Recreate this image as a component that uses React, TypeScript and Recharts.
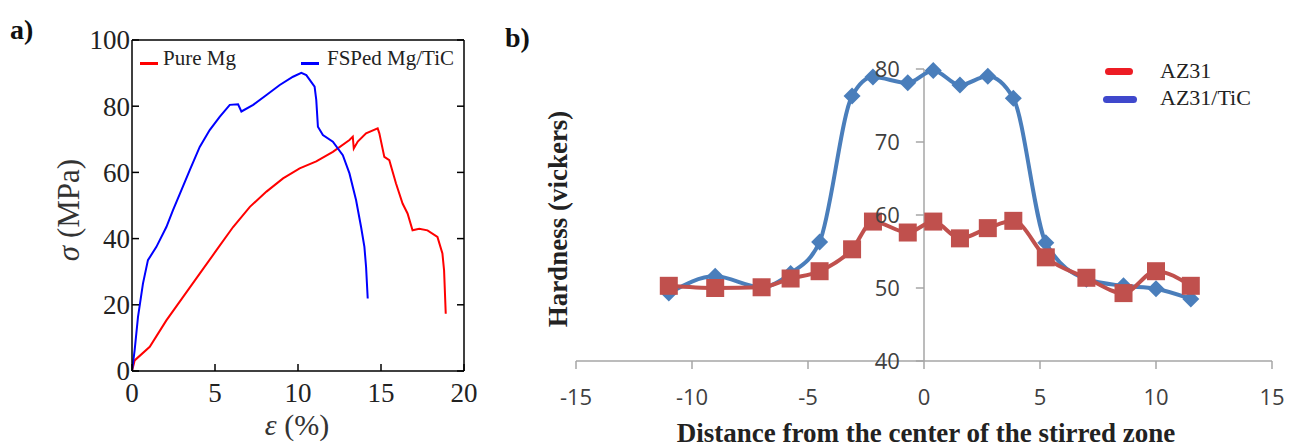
import { LineChart, Line, XAxis, YAxis, Legend, ReferenceLine } from 'recharts';

// ---- panel a) tensile curves ----
const fspStrain = [0, 0.16, 0.36, 0.66, 0.96, 1.47, 2.07, 2.47, 2.97, 3.48, 4.08, 4.68, 5.28, 5.89, 6.39, 6.59, 7.3, 8.1, 8.9, 9.7, 10.2, 10.5, 11.0, 11.1, 11.2, 11.5, 12.1, 12.7, 13.1, 13.5, 13.8, 14.0, 14.1, 14.2];
const fspStress = [0, 6.3, 16.3, 26.4, 33.5, 37.5, 43.5, 48.6, 54.6, 60.7, 67.7, 72.8, 76.8, 80.4, 80.6, 78.4, 80.4, 83.4, 86.4, 88.9, 90.1, 89.4, 85.9, 81.9, 73.8, 71.3, 69.3, 65.2, 59.7, 51.6, 43.5, 37.5, 31.5, 21.9];
const pureStrain = [0, 0.16, 1.07, 2.07, 3.08, 4.08, 5.09, 6.09, 7.1, 8.1, 9.1, 10.1, 11.1, 12.1, 13.1, 13.3, 13.36, 13.6, 14.1, 14.8, 14.9, 15.2, 15.5, 15.9, 16.3, 16.6, 16.9, 17.3, 17.8, 18.4, 18.7, 18.8, 18.9];
const pureStress = [0, 3.2, 7.3, 15.3, 22.4, 29.4, 36.5, 43.5, 49.6, 54.2, 58.2, 61.2, 63.3, 66.2, 69.8, 70.8, 67.2, 69.3, 71.8, 73.3, 71.8, 64.7, 63.7, 56.7, 50.6, 47.6, 42.5, 43.0, 42.5, 40.5, 35.5, 30.4, 17.3];
const strainTicks = [0, 5, 10, 15, 20];
const stressTicks = [0, 20, 40, 60, 80, 100];

// ---- panel b) hardness profile ----
const distance = [-11, -9, -7, -5.75, -4.5, -3.1, -2.2, -0.7, 0.4, 1.55, 2.75, 3.85, 5.25, 7, 8.6, 10, 11.5];
const hardnessAZ31 = [50.3, 50.0, 50.1, 51.3, 52.3, 55.3, 59.1, 57.6, 59.1, 56.8, 58.2, 59.2, 54.2, 51.4, 49.3, 52.3, 50.3];
const hardnessTiC = [49.3, 51.6, 50.1, 52.0, 56.3, 76.3, 78.9, 78.1, 79.8, 77.8, 79.0, 76.0, 56.2, 51.2, 50.3, 49.9, 48.5];
const distanceTicks = [-15, -10, -5, 0, 5, 10, 15];
const hardnessTicks = [40, 50, 60, 70, 80];

const fspData = fspStrain.map((x, i) => ({ x, y: fspStress[i] }));
const pureData = pureStrain.map((x, i) => ({ x, y: pureStress[i] }));
const hardnessData = distance.map((d, i) => ({ d, az31: hardnessAZ31[i], tic: hardnessTiC[i] }));

const serif = '"Liberation Serif", "Times New Roman", serif';
const sans = '"Open Sans", "Liberation Sans", Arial, sans-serif';

const TickBottomA = ({ x, y, payload }: any) => (
  <g>
    <line x1={x} y1={y} x2={x} y2={y - 7} stroke="#000" strokeWidth={1.5} />
    <text x={x} y={y + 31} textAnchor="middle" fontFamily={serif} fontSize={27} fill="#222">{payload.value}</text>
  </g>
);
const TickTopA = ({ x, y }: any) => <line x1={x} y1={y} x2={x} y2={y + 7} stroke="#000" strokeWidth={1.5} />;
const TickLeftA = ({ x, y, payload }: any) => (
  <g>
    <line x1={x} y1={y} x2={x + 7} y2={y} stroke="#000" strokeWidth={1.5} />
    <text x={x - 2} y={y} dy="0.35em" textAnchor="end" fontFamily={serif} fontSize={27} fill="#222">{payload.value}</text>
  </g>
);
const TickRightA = ({ x, y }: any) => <line x1={x} y1={y} x2={x - 7} y2={y} stroke="#000" strokeWidth={1.5} />;

const TickBottomB = ({ x, y, payload }: any) => (
  <g>
    <line x1={x} y1={y} x2={x} y2={y + 8} stroke="#a6a6a6" strokeWidth={1.5} />
    <text x={x} y={y + 44} textAnchor="middle" fontFamily={sans} fontSize={22} fill="#404040">{payload.value}</text>
  </g>
);

const SquareDot = (props: any) => {
  const { cx, cy, index } = props;
  if (cx == null || cy == null) return <g key={`sq-${index}`} />;
  return <rect key={`sq-${index}`} x={cx - 9} y={cy - 9} width={18} height={18} fill="#c0504d" />;
};
const DiamondDot = (props: any) => {
  const { cx, cy, index } = props;
  if (cx == null || cy == null) return <g key={`dm-${index}`} />;
  const r = 8.5;
  return <polygon key={`dm-${index}`} points={`${cx},${cy - r} ${cx + r},${cy} ${cx},${cy + r} ${cx - r},${cy}`} fill="#4a7ebb" />;
};

const LegendA = () => (
  <div style={{ position: 'relative', height: 30, fontFamily: serif, fontSize: 21, color: '#222' }}>
    <div style={{ position: 'absolute', left: 5, top: 14, width: 18, height: 2.5, background: '#ff0000' }} />
    <div style={{ position: 'absolute', left: 28, top: 0, lineHeight: '21px', whiteSpace: 'nowrap' }}>Pure Mg</div>
    <div style={{ position: 'absolute', left: 166, top: 14, width: 18, height: 2.5, background: '#0000ff' }} />
    <div style={{ position: 'absolute', left: 192, top: 0, lineHeight: '21px', whiteSpace: 'nowrap' }}>FSPed Mg/TiC</div>
  </div>
);

const LegendB = () => (
  <div style={{ position: 'relative', height: 60, fontFamily: serif, fontSize: 22, color: '#222' }}>
    <div style={{ position: 'absolute', left: 5, top: 9.5, width: 28, height: 7, borderRadius: 4, background: '#ed1c24' }} />
    <div style={{ position: 'absolute', left: 60, top: 2, lineHeight: '22px', whiteSpace: 'nowrap' }}>AZ31</div>
    <div style={{ position: 'absolute', left: 3, top: 37.5, width: 34, height: 7, borderRadius: 4, background: '#3f48cc' }} />
    <div style={{ position: 'absolute', left: 60, top: 29, lineHeight: '22px', whiteSpace: 'nowrap' }}>AZ31/TiC</div>
  </div>
);

const abs = (style: React.CSSProperties): React.CSSProperties => ({ position: 'absolute', whiteSpace: 'nowrap', lineHeight: 1, ...style });

export default function App() {
  return (
    <div style={{ position: 'absolute', left: 0, top: 0, width: 1294, height: 446, background: '#fff', overflow: 'hidden' }}>
      {/* a) stress-strain */}
      <div style={abs({ left: 0, top: 0 })}>
        <LineChart width={480} height={446} margin={{ top: 39, right: 15, bottom: 74, left: 131 }}>
          <XAxis dataKey="x" type="number" domain={[0, 20]} ticks={strainTicks} height={1} tickSize={0} tickMargin={0}
            axisLine={{ stroke: '#000', strokeWidth: 1.5 }} tickLine={false} tick={<TickBottomA />} allowDataOverflow />
          <XAxis xAxisId="top" orientation="top" type="number" domain={[0, 20]} ticks={strainTicks} height={1} tickSize={0} tickMargin={0}
            axisLine={{ stroke: '#000', strokeWidth: 1.5 }} tickLine={false} tick={<TickTopA />} allowDataOverflow />
          <YAxis type="number" domain={[0, 100]} ticks={stressTicks} width={1} tickSize={0} tickMargin={0}
            axisLine={{ stroke: '#000', strokeWidth: 1.5 }} tickLine={false} tick={<TickLeftA />} allowDataOverflow />
          <YAxis yAxisId="right" orientation="right" type="number" domain={[0, 100]} ticks={stressTicks} width={1} tickSize={0} tickMargin={0}
            axisLine={{ stroke: '#000', strokeWidth: 1.5 }} tickLine={false} tick={<TickRightA />} allowDataOverflow />
          <Line data={pureData} dataKey="y" name="Pure Mg" type="linear" stroke="#ff0000" strokeWidth={2} dot={false} isAnimationActive={false} />
          <Line data={fspData} dataKey="y" name="FSPed Mg/TiC" type="linear" stroke="#0000ff" strokeWidth={2} dot={false} isAnimationActive={false} />
          <Legend layout="horizontal" verticalAlign="middle" align="center" content={<LegendA />}
            wrapperStyle={{ left: 135, top: 48, width: 330 }} />
        </LineChart>
      </div>
      <div style={abs({ left: 10, top: 16, fontFamily: serif, fontWeight: 'bold', fontSize: 28, color: '#111' })}>a)</div>
      <div style={abs({ left: 297, top: 425, transform: 'translate(-50%, -50%)', fontFamily: serif, fontSize: 30, color: '#333' })}>
        <i>ε</i> (%)
      </div>
      <div style={abs({ left: 68, top: 210, transform: 'translate(-50%, -50%) rotate(-90deg)', fontFamily: serif, fontSize: 31, color: '#333' })}>
        <i>σ</i> (MPa)
      </div>

      {/* b) hardness */}
      <div style={abs({ left: 500, top: 0 })}>
        <LineChart width={794} height={446} data={hardnessData} margin={{ top: 69, right: 22, bottom: 84, left: 76 }}>
          <XAxis dataKey="d" type="number" domain={[-15, 15]} ticks={distanceTicks} height={1} tickSize={0} tickMargin={0}
            axisLine={{ stroke: '#a6a6a6', strokeWidth: 1.5 }} tickLine={false} tick={<TickBottomB />} />
          <YAxis type="number" domain={[40, 80]} hide />
          <ReferenceLine x={0} stroke="#a6a6a6" strokeWidth={1.5} />
          {hardnessTicks.map((v) => (
            <ReferenceLine key={v} segment={[{ x: -0.35, y: v }, { x: 0, y: v }]} stroke="#a6a6a6" strokeWidth={1.5}
              label={{ value: v, position: 'left', offset: 16, fill: '#404040', fontSize: 22, fontFamily: sans }} />
          ))}
          <Line dataKey="tic" name="AZ31/TiC" type="monotone" stroke="#4a7ebb" strokeWidth={4} dot={<DiamondDot />} isAnimationActive={false} />
          <Line dataKey="az31" name="AZ31" type="monotone" stroke="#c0504d" strokeWidth={4} dot={<SquareDot />} isAnimationActive={false} />
          <Legend layout="horizontal" verticalAlign="middle" align="center" content={<LegendB />}
            wrapperStyle={{ left: 600, top: 58, width: 180 }} />
        </LineChart>
      </div>
      <div style={abs({ left: 505, top: 24, fontFamily: serif, fontWeight: 'bold', fontSize: 28, color: '#111' })}>b)</div>
      <div style={abs({ left: 926, top: 433, transform: 'translate(-50%, -50%)', fontFamily: serif, fontWeight: 'bold', fontSize: 27, color: '#222' })}>
        Distance from the center of the stirred zone
      </div>
      <div style={abs({ left: 558, top: 219, transform: 'translate(-50%, -50%) rotate(-90deg)', fontFamily: serif, fontWeight: 'bold', fontSize: 27, color: '#222' })}>
        Hardness (vickers)
      </div>
    </div>
  );
}
